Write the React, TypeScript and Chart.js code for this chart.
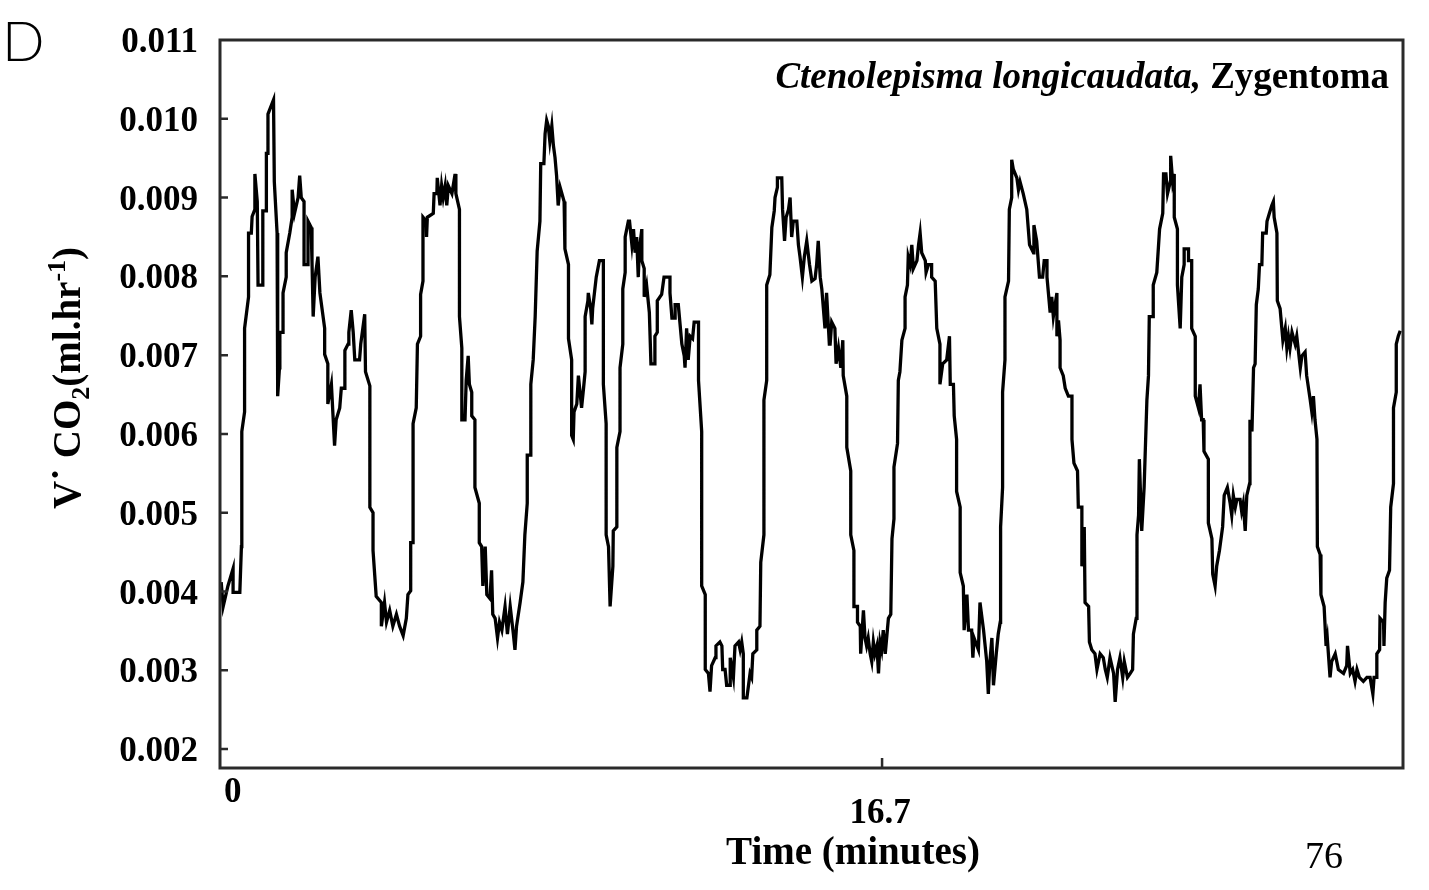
import React, { useEffect, useRef } from "react";
import { Chart, registerables } from "chart.js";

Chart.register(...registerables);

// ---- axis definitions ----
const Y_TICKS = [0.002, 0.003, 0.004, 0.005, 0.006, 0.007, 0.008, 0.009, 0.01, 0.011];
const X_TICKS = [0, 16.7];
const X_TICK_LABELS = ["0", "16.7"];
const X_MIN = 0;
const X_MAX = 29.84;
const Y_MIN = 0.00176;
const Y_MAX = 0.011;

// ---- trace, time in minutes / VCO2 in ml.hr-1 ----
const T_PART1 = [
  0.03, 0.08, 0.2, 0.33, 0.33, 0.5, 0.54, 0.55, 0.62, 0.62,
  0.72, 0.72, 0.79, 0.81, 0.88, 0.88, 0.94, 0.96, 1.08, 1.08,
  1.17, 1.17, 1.21, 1.21, 1.35, 1.37, 1.44, 1.45, 1.46, 1.5,
  1.51, 1.59, 1.59, 1.67, 1.67, 1.76, 1.82, 1.82, 1.88, 1.97,
  2.01, 2.05, 2.12, 2.12, 2.22, 2.22, 2.3, 2.32, 2.35, 2.4,
  2.47, 2.52, 2.64, 2.64, 2.72, 2.72, 2.81, 2.89, 2.93, 3.02,
  3.06, 3.15, 3.15, 3.23, 3.25, 3.31, 3.36, 3.4, 3.52, 3.55,
  3.65, 3.67, 3.78, 3.78, 3.86, 3.86, 3.94, 4.07, 4.07, 4.15,
  4.2, 4.28, 4.36, 4.45, 4.53, 4.62, 4.7, 4.74, 4.81, 4.81,
  4.87, 4.87, 4.95, 4.98, 5.06, 5.06, 5.12, 5.12, 5.2,
];
const V_PART1 = [
  0.00412, 0.00381, 0.00407, 0.00429, 0.00399, 0.00399, 0.00457, 0.00603, 0.00628, 0.00734,
  0.00774, 0.00855, 0.00855, 0.00876, 0.00885, 0.0093, 0.00895, 0.00789, 0.00789, 0.00883,
  0.00883, 0.00956, 0.00956, 0.01006, 0.01024, 0.0092, 0.00855, 0.00734, 0.00648, 0.00684,
  0.00729, 0.00729, 0.00779, 0.00799, 0.0083, 0.00855, 0.00875, 0.0091, 0.0088, 0.009,
  0.00928, 0.009, 0.00895, 0.00815, 0.00815, 0.0087, 0.00862, 0.0082, 0.00749, 0.00799,
  0.00825, 0.00779, 0.00734, 0.00701, 0.00689, 0.00638, 0.00663, 0.00585, 0.00618, 0.00633,
  0.00658, 0.00658, 0.00706, 0.00714, 0.00729, 0.00757, 0.00729, 0.00694, 0.00694, 0.00714,
  0.00752, 0.00679, 0.00661, 0.00507, 0.005, 0.00452, 0.00394, 0.00386, 0.00356, 0.00386,
  0.00361, 0.00376, 0.00356, 0.00371, 0.00356, 0.00344, 0.00366, 0.00396, 0.00401, 0.00462,
  0.00462, 0.00613, 0.00633, 0.00714, 0.00724, 0.00777, 0.00794, 0.00875, 0.0087,
];

const T_PART2 = [
  5.21, 5.23, 5.38, 5.4, 5.47, 5.48, 5.55, 5.59, 5.63, 5.68,
  5.72, 5.76, 5.85, 5.93, 5.95, 6.04, 6.04, 6.1, 6.1, 6.18,
  6.21, 6.26, 6.29, 6.35, 6.35, 6.43, 6.43, 6.54, 6.54, 6.6,
  6.63, 6.69, 6.73, 6.81, 6.85, 6.88, 6.94, 7.0, 7.05, 7.11,
  7.19, 7.25, 7.32, 7.4, 7.44, 7.48, 7.57, 7.64, 7.69, 7.75,
  7.75, 7.84, 7.84, 7.9, 7.95, 8.0, 8.07, 8.09, 8.17, 8.2,
  8.24, 8.28, 8.32, 8.37, 8.41, 8.45, 8.49, 8.53, 8.58, 8.68,
  8.7, 8.79, 8.79, 8.87, 8.87, 8.91, 8.93, 9.0, 9.04, 9.12,
  9.17, 9.21, 9.21, 9.28, 9.29, 9.35, 9.38, 9.4, 9.49, 9.57,
  9.67, 9.67, 9.74, 9.74, 9.8, 9.84, 9.91, 9.92, 10.01, 10.01,
  10.09, 10.09, 10.16, 10.16, 10.22, 10.22, 10.3,
];
const V_PART2 = [
  0.0085, 0.00875, 0.0088, 0.00905, 0.00905, 0.00925, 0.0089, 0.00915, 0.009, 0.00915,
  0.0089, 0.00915, 0.00905, 0.0093, 0.00905, 0.00885, 0.00749, 0.00709, 0.00618, 0.00618,
  0.00668, 0.00699, 0.00663, 0.00653, 0.00623, 0.00618, 0.00532, 0.00512, 0.00462, 0.00457,
  0.00407, 0.00457, 0.00396, 0.00391, 0.00427, 0.00371, 0.00366, 0.00341, 0.00361, 0.00351,
  0.00381, 0.00346, 0.00381, 0.00346, 0.00326, 0.00356, 0.00386, 0.00412, 0.00472, 0.00512,
  0.00573, 0.00573, 0.00663, 0.00694, 0.00749, 0.00832, 0.0087, 0.00943, 0.00943, 0.00981,
  0.00998, 0.00991, 0.00971, 0.00991, 0.00966, 0.00951, 0.00928, 0.0089, 0.00913, 0.00895,
  0.00835, 0.00815, 0.00721, 0.00694, 0.00598, 0.00593, 0.00628, 0.00638, 0.00674, 0.00633,
  0.00658, 0.00679, 0.00749, 0.00769, 0.00779, 0.00759, 0.00739, 0.00759, 0.00799, 0.0082,
  0.0082, 0.00663, 0.00613, 0.00472, 0.00457, 0.00381, 0.00432, 0.00477, 0.00482, 0.00583,
  0.00603, 0.00684, 0.00714, 0.00784, 0.00805, 0.0085, 0.0087,
];

const T_PART3 = [
  10.33, 10.39, 10.43, 10.47, 10.51, 10.55, 10.58, 10.64, 10.64, 10.7,
  10.7, 10.76, 10.83, 10.87, 10.97, 10.97, 11.03, 11.03, 11.14, 11.2,
  11.35, 11.35, 11.4, 11.48, 11.48, 11.56, 11.65, 11.71, 11.73, 11.77,
  11.81, 11.86, 11.92, 11.96, 12.07, 12.07, 12.15, 12.15, 12.24, 12.24,
  12.32, 12.36, 12.4, 12.49, 12.51, 12.61, 12.66, 12.68, 12.74, 12.78,
  12.87, 12.87, 12.95, 12.99, 13.08, 13.12, 13.16, 13.2, 13.2, 13.29,
  13.37, 13.41, 13.44, 13.54, 13.54, 13.62, 13.64, 13.72, 13.72, 13.79,
  13.79, 13.87, 13.92, 13.98, 14.0, 14.06, 14.06, 14.17, 14.19, 14.24,
  14.28, 14.34, 14.38, 14.42, 14.46, 14.55, 14.59, 14.63, 14.69, 14.74,
  14.8, 14.87, 14.93, 15.01, 15.05, 15.09, 15.14, 15.18, 15.22, 15.26,
  15.3, 15.37,
];
const V_PART3 = [
  0.0087, 0.0084, 0.0086, 0.0083, 0.0085, 0.00799, 0.00835, 0.0086, 0.0082, 0.0081,
  0.00774, 0.00789, 0.00754, 0.00689, 0.00689, 0.00724, 0.00729, 0.00769, 0.00777, 0.00799,
  0.00799, 0.00779, 0.00747, 0.00747, 0.00764, 0.00764, 0.00714, 0.00699, 0.00684, 0.00734,
  0.00694, 0.00724, 0.00721, 0.00742, 0.00742, 0.00668, 0.00603, 0.00407, 0.00396, 0.00301,
  0.00296, 0.00273, 0.00306, 0.00316, 0.00331, 0.00336, 0.00331, 0.00301, 0.00301, 0.00281,
  0.00281, 0.00316, 0.00291, 0.00331, 0.00336, 0.00326, 0.00336, 0.00321, 0.00265, 0.00265,
  0.00296, 0.00291, 0.00321, 0.00326, 0.00351, 0.00356, 0.00437, 0.00472, 0.00643, 0.00668,
  0.00789, 0.00802, 0.00862, 0.00883, 0.009, 0.00913, 0.00925, 0.00925, 0.00885, 0.00845,
  0.00875, 0.00885, 0.009, 0.0085, 0.0087, 0.0087, 0.0084, 0.00825, 0.00799, 0.00825,
  0.00845, 0.00815, 0.00794, 0.00797, 0.00815, 0.00845, 0.00799, 0.00784, 0.00759, 0.00734,
  0.00779, 0.00714,
];

const T_PART4 = [
  15.39, 15.43, 15.51, 15.54, 15.6, 15.66, 15.71, 15.72, 15.81, 15.81,
  15.91, 15.91, 15.99, 15.99, 16.08, 16.08, 16.15, 16.16, 16.23, 16.27,
  16.31, 16.35, 16.4, 16.44, 16.48, 16.52, 16.57, 16.61, 16.65, 16.69,
  16.73, 16.78, 16.86, 16.92, 16.95, 17.0, 17.0, 17.09, 17.11, 17.15,
  17.2, 17.28, 17.28, 17.34, 17.36, 17.41, 17.45, 17.49, 17.58, 17.62,
  17.66, 17.7, 17.79, 17.81, 17.87, 17.95, 17.95, 18.04, 18.08, 18.16,
  18.16, 18.23, 18.33, 18.4, 18.42, 18.5, 18.52, 18.58, 18.58, 18.67,
  18.67, 18.75, 18.77, 18.84, 18.88, 18.96, 18.99, 19.02, 19.13, 19.17,
  19.26, 19.34, 19.38, 19.42, 19.47, 19.51, 19.58, 19.63, 19.68, 19.69,
  19.74, 19.74, 19.8, 19.8, 19.89, 19.91, 19.97, 19.97, 20.01, 20.1,
  20.14, 20.18, 20.26, 20.35, 20.42,
];
const V_PART4 = [
  0.00714, 0.00742, 0.00734, 0.00689, 0.00709, 0.00684, 0.00719, 0.00674, 0.00648, 0.00583,
  0.00553, 0.00472, 0.00452, 0.00381, 0.00381, 0.00361, 0.00356, 0.00321, 0.00376, 0.00341,
  0.00331, 0.00341, 0.00321, 0.00311, 0.00336, 0.00321, 0.00331, 0.00296, 0.00336, 0.00326,
  0.00351, 0.00321, 0.00366, 0.00371, 0.00467, 0.00492, 0.00558, 0.00588, 0.00668, 0.00679,
  0.00719, 0.00734, 0.00774, 0.00789, 0.00825, 0.00815, 0.0084, 0.0081, 0.0082, 0.0084,
  0.00855, 0.0083, 0.0082, 0.00805, 0.00815, 0.00815, 0.00799, 0.00794, 0.00734, 0.00714,
  0.00663, 0.00689, 0.00694, 0.00724, 0.00663, 0.00663, 0.00623, 0.00593, 0.00527, 0.00507,
  0.00424, 0.00407, 0.00351, 0.00396, 0.00351, 0.00351, 0.00316, 0.00341, 0.00326, 0.00386,
  0.00351, 0.00311, 0.0027, 0.00311, 0.00341, 0.00281, 0.00321, 0.00346, 0.00361, 0.00482,
  0.00532, 0.00653, 0.00694, 0.00774, 0.00794, 0.00885, 0.009, 0.00948, 0.00936, 0.00925,
  0.0091, 0.0092, 0.00905, 0.00885, 0.0084,
];

const T_PART5 = [
  20.52, 20.53, 20.6, 20.67, 20.75, 20.79, 20.86, 20.86, 20.94, 20.98,
  21.02, 21.11, 21.11, 21.15, 21.19, 21.19, 21.27, 21.32, 21.4, 21.49,
  21.49, 21.54, 21.63, 21.65, 21.74, 21.74, 21.8, 21.82, 21.91, 21.93,
  21.99, 22.07, 22.12, 22.2, 22.28, 22.33, 22.38, 22.45, 22.54, 22.58,
  22.64, 22.7, 22.77, 22.81, 22.89, 22.96, 23.02, 23.04, 23.11, 23.13,
  23.17, 23.19, 23.25, 23.31, 23.38, 23.42, 23.44, 23.54, 23.54, 23.63,
  23.7, 23.78, 23.8, 23.86, 23.9, 23.97, 23.98, 24.03, 24.07, 24.07,
  24.15, 24.15, 24.22, 24.26, 24.32, 24.32, 24.43, 24.43, 24.51, 24.51,
  24.6, 24.6, 24.68, 24.72, 24.76, 24.8, 24.82, 24.93, 24.93, 25.02,
  25.04, 25.1, 25.14, 25.21, 25.29, 25.33,
];
const V_PART5 = [
  0.0083, 0.00865, 0.00845, 0.00799, 0.00799, 0.0082, 0.0082, 0.00799, 0.00754, 0.00774,
  0.00749, 0.00779, 0.00724, 0.00744, 0.00719, 0.00684, 0.00674, 0.00658, 0.00648, 0.00648,
  0.00593, 0.00563, 0.00553, 0.00507, 0.00507, 0.00432, 0.00482, 0.00386, 0.00381, 0.00336,
  0.00326, 0.00321, 0.00301, 0.00321, 0.00316, 0.00301, 0.00291, 0.00316, 0.00296, 0.0026,
  0.00301, 0.00316, 0.00291, 0.00311, 0.00291, 0.00296, 0.00301, 0.00346, 0.00366, 0.00472,
  0.00497, 0.00568, 0.00477, 0.00532, 0.00643, 0.00674, 0.00749, 0.00749, 0.00789, 0.00805,
  0.0086, 0.0088, 0.0093, 0.0093, 0.00905, 0.0092, 0.00953, 0.0092, 0.0093, 0.00875,
  0.0086, 0.00789, 0.00734, 0.00799, 0.00815, 0.00835, 0.00835, 0.0082, 0.0082, 0.00734,
  0.00724, 0.00648, 0.00633, 0.00663, 0.00618, 0.00618, 0.00578, 0.00568, 0.00487, 0.00467,
  0.00422, 0.00407, 0.00432, 0.00452, 0.00482, 0.00522,
];

const T_PART6 = [
  25.41, 25.48, 25.52, 25.56, 25.61, 25.65, 25.73, 25.77, 25.81, 25.86,
  25.9, 25.97, 25.98, 26.03, 26.07, 26.11, 26.14, 26.19, 26.22, 26.28,
  26.3, 26.39, 26.41, 26.47, 26.53, 26.57, 26.59, 26.66, 26.67, 26.74,
  26.81, 26.87, 26.91, 26.95, 26.99, 27.04, 27.12, 27.16, 27.25, 27.29,
  27.37, 27.41, 27.5, 27.54, 27.58, 27.62, 27.67, 27.68, 27.75, 27.77,
  27.85, 27.9, 27.93, 28.0, 28.04, 28.13, 28.17, 28.21, 28.34, 28.42,
  28.44, 28.51, 28.57, 28.63, 28.68, 28.74, 28.84, 28.93, 29.01, 29.08,
  29.11, 29.16, 29.18, 29.25, 29.26, 29.35, 29.36, 29.39, 29.43, 29.5,
  29.53, 29.6, 29.6, 29.67, 29.67, 29.72, 29.77,
];
const V_PART6 = [
  0.00532, 0.00512, 0.00497, 0.00522, 0.00507, 0.00517, 0.00517, 0.00502, 0.00512, 0.00477,
  0.00522, 0.00537, 0.00618, 0.00603, 0.00684, 0.00689, 0.00764, 0.00784, 0.00815, 0.00815,
  0.00855, 0.00855, 0.0087, 0.0088, 0.0089, 0.00895, 0.00875, 0.00855, 0.00769, 0.00759,
  0.00719, 0.00734, 0.00709, 0.00724, 0.00709, 0.00729, 0.00714, 0.00724, 0.00684, 0.00699,
  0.00704, 0.00674, 0.00643, 0.00628, 0.00648, 0.00618, 0.00593, 0.00457, 0.00447, 0.00396,
  0.00381, 0.00331, 0.00341, 0.00291, 0.00311, 0.00321, 0.00311, 0.00301, 0.00296, 0.00306,
  0.00331, 0.00296, 0.00301, 0.00286, 0.00301, 0.00291, 0.00286, 0.00291, 0.00291, 0.0027,
  0.00291, 0.00291, 0.00321, 0.00326, 0.00366, 0.00361, 0.00331, 0.00386, 0.00417, 0.00427,
  0.00507, 0.00537, 0.00633, 0.00653, 0.00714, 0.00724, 0.00731,
];

const TIME_MIN = [...T_PART1, ...T_PART2, ...T_PART3, ...T_PART4, ...T_PART5, ...T_PART6];
const VCO2 = [...V_PART1, ...V_PART2, ...V_PART3, ...V_PART4, ...V_PART5, ...V_PART6];

const PANEL_LETTER = "D";
const SPECIES = "Ctenolepisma longicaudata,";
const ORDER = " Zygentoma";
const X_TITLE = "Time (minutes)";
const PAGE_NUMBER = "76";

const SERIF = '"Liberation Serif", "Times New Roman", serif';

const decorPlugin = {
  id: "decor",
  afterDatasetsDraw(chart: any) {
    const { ctx, chartArea: a, scales } = chart;
    const ys = scales.y;
    const xs = scales.x;
    ctx.save();

    // frame
    ctx.strokeStyle = "#2a2a2a";
    ctx.lineWidth = 3;
    ctx.strokeRect(a.left, a.top, a.right - a.left, a.bottom - a.top);

    // inward tick marks
    ctx.lineWidth = 2.5;
    ctx.beginPath();
    Y_TICKS.forEach((v) => {
      if (v >= Y_MAX) return;
      const y = ys.getPixelForValue(v);
      ctx.moveTo(a.left, y);
      ctx.lineTo(a.left + 8, y);
    });
    X_TICKS.forEach((v) => {
      if (v <= X_MIN) return;
      const x = xs.getPixelForValue(v);
      ctx.moveTo(x, a.bottom);
      ctx.lineTo(x, a.bottom - 10);
    });
    ctx.stroke();

    ctx.fillStyle = "#000";
    ctx.textBaseline = "alphabetic";

    // y tick labels
    ctx.font = `bold 35px ${SERIF}`;
    ctx.textAlign = "right";
    Y_TICKS.forEach((v) => {
      const y = ys.getPixelForValue(v);
      ctx.fillText(v.toFixed(3), a.left - 22, y + 12);
    });

    // x tick labels
    X_TICKS.forEach((v, i) => {
      const x = xs.getPixelForValue(v);
      if (i === 0) {
        ctx.textAlign = "left";
        ctx.fillText(X_TICK_LABELS[i], x + 4, a.bottom + 34);
      } else {
        ctx.textAlign = "center";
        ctx.fillText(X_TICK_LABELS[i], x - 2, a.bottom + 55);
      }
    });

    // x title
    ctx.font = `bold 39px ${SERIF}`;
    ctx.textAlign = "center";
    ctx.fillText(X_TITLE, 853, a.bottom + 96);

    // page number
    ctx.font = `38px ${SERIF}`;
    ctx.fillText(PAGE_NUMBER, 1324, a.bottom + 100);

    // species annotation (right-aligned inside plot)
    ctx.textAlign = "left";
    ctx.font = `bold 37px ${SERIF}`;
    const wOrder = ctx.measureText(ORDER).width;
    ctx.font = `italic bold 37px ${SERIF}`;
    const wSpecies = ctx.measureText(SPECIES).width;
    const xStart = a.right - 14 - wOrder - wSpecies;
    ctx.fillText(SPECIES, xStart, a.top + 48);
    ctx.font = `bold 37px ${SERIF}`;
    ctx.fillText(ORDER, xStart + wSpecies, a.top + 48);

    // panel letter
    ctx.font = `300 56px Lato, "DejaVu Sans", sans-serif`;
    ctx.fillText(PANEL_LETTER, 2, 61);

    // rotated y-axis title: V· CO2(ml.hr-1)
    const segs = [
      { t: "V", size: 39, dy: 0 },
      { t: "˙", size: 39, dy: 0 },
      { t: " CO", size: 39, dy: 0 },
      { t: "2", size: 26, dy: 9 },
      { t: "(ml.hr", size: 39, dy: 0 },
      { t: "-1", size: 26, dy: -15 },
      { t: ")", size: 39, dy: 0 },
    ];
    let total = 0;
    const widths = segs.map((s) => {
      ctx.font = `bold ${s.size}px ${SERIF}`;
      const w = ctx.measureText(s.t).width;
      total += w;
      return w;
    });
    ctx.translate(80, 378);
    ctx.rotate(-Math.PI / 2);
    let cx = -total / 2;
    segs.forEach((s, i) => {
      ctx.font = `bold ${s.size}px ${SERIF}`;
      ctx.fillText(s.t, cx, s.dy);
      cx += widths[i];
    });

    ctx.restore();
  },
};

export default function App() {
  const ref = useRef<HTMLCanvasElement>(null);
  useEffect(() => {
    if (!ref.current) return;
    const points = TIME_MIN.map((t, i) => ({ x: t, y: VCO2[i] }));
    const chart = new Chart(ref.current, {
      type: "line",
      data: {
        datasets: [
          {
            data: points,
            borderColor: "#000",
            borderWidth: 3.3,
            pointRadius: 0,
            tension: 0,
            fill: false,
          },
        ],
      },
      options: {
        responsive: false,
        animation: false,
        events: [],
        layout: { padding: { left: 220, top: 40, right: 26, bottom: 122 } },
        scales: {
          x: { type: "linear", min: X_MIN, max: X_MAX, display: false },
          y: { type: "linear", min: Y_MIN, max: Y_MAX, display: false },
        },
        plugins: { legend: { display: false }, tooltip: { enabled: false } },
      },
      plugins: [decorPlugin],
    } as any);
    return () => chart.destroy();
  }, []);
  return (
    <div style={{ position: "fixed", left: 0, top: 0, width: 1429, height: 890, background: "#fff" }}>
      <canvas ref={ref} width={1429} height={890} style={{ display: "block" }} />
    </div>
  );
}
